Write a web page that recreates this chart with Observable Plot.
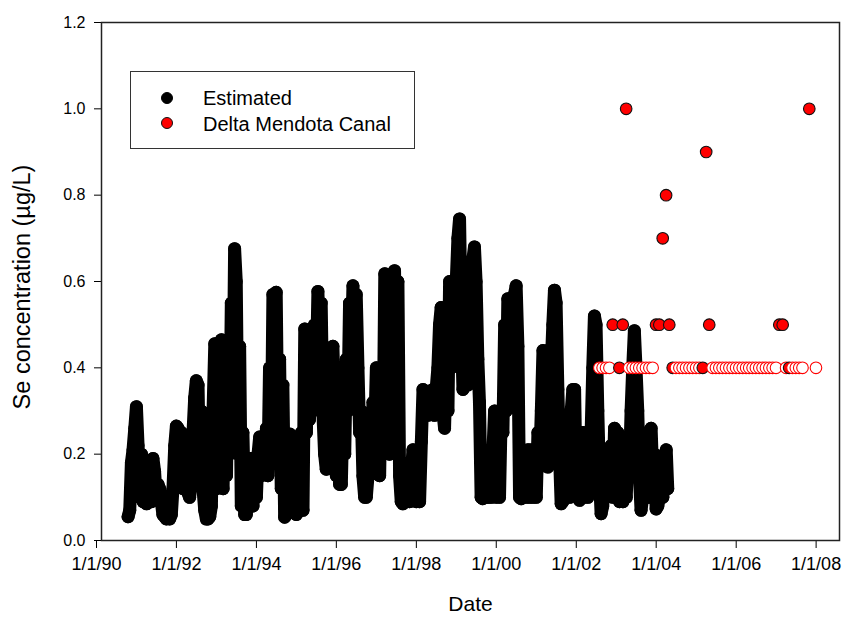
<!DOCTYPE html>
<html><head><meta charset="utf-8">
<script src="https://cdn.jsdelivr.net/npm/d3@7"></script>
<script src="https://cdn.jsdelivr.net/npm/@observablehq/plot@0.6"></script>
<style>
body{margin:0;background:#fff;}
#wrap{position:relative;width:843px;height:622px;font-family:Arial,"Liberation Sans",sans-serif;}
#overlay{position:absolute;left:0;top:0;pointer-events:none;}
</style></head>
<body><div id="wrap"></div>
<script>
// Estimated series: two values per month (1st and 16th), starting September 1990
const estStartYear = 1990, estStartMonth = 9;
const estValues = [
  // 1990 Sep-Dec
  0.055,0.07, 0.18,0.21, 0.26,0.31, 0.22,0.10,
  // 1991
  0.20,0.09, 0.17,0.085, 0.10,0.15, 0.09,0.19, 0.16,0.10, 0.13,0.12,
  0.09,0.06, 0.055,0.05, 0.06,0.05, 0.06,0.12, 0.22,0.265, 0.26,0.18,
  // 1992
  0.25,0.12, 0.20,0.14, 0.11,0.10, 0.14,0.25, 0.33,0.37, 0.36,0.13,
  0.30,0.12, 0.07,0.05, 0.05,0.055, 0.08,0.30, 0.456,0.12, 0.40,0.15,
  // 1993
  0.465,0.12, 0.42,0.15, 0.40,0.20, 0.55,0.30, 0.676,0.60, 0.20,0.45,
  0.08,0.25, 0.06,0.06, 0.12,0.19, 0.19,0.08, 0.17,0.10, 0.20,0.24,
  // 1994
  0.15,0.24, 0.18,0.26, 0.15,0.40, 0.20,0.57, 0.40,0.575, 0.20,0.42,
  0.12,0.36, 0.054,0.06, 0.12,0.247, 0.07,0.24, 0.10,0.06, 0.066,0.07,
  // 1995
  0.25,0.07, 0.49,0.25, 0.45,0.28, 0.40,0.30, 0.50,0.36, 0.577,0.45,
  0.55,0.30, 0.20,0.165, 0.25,0.35, 0.20,0.45, 0.30,0.15, 0.25,0.13,
  // 1996
  0.13,0.30, 0.20,0.42, 0.30,0.55, 0.42,0.59, 0.50,0.57, 0.40,0.25,
  0.30,0.15, 0.10,0.10, 0.15,0.25, 0.20,0.32, 0.25,0.40, 0.30,0.15,
  // 1997
  0.40,0.20, 0.618,0.30, 0.60,0.20, 0.55,0.30, 0.625,0.40, 0.60,0.15,
  0.09,0.085, 0.10,0.09, 0.12,0.09, 0.15,0.21, 0.12,0.09, 0.10,0.09,
  // 1998
  0.228,0.35, 0.30,0.33, 0.29,0.34, 0.30,0.35, 0.29,0.35, 0.40,0.50,
  0.54,0.30, 0.26,0.40, 0.30,0.60, 0.40,0.55, 0.45,0.60, 0.70,0.745,
  // 1999
  0.50,0.35, 0.58,0.40, 0.36,0.55, 0.45,0.65, 0.68,0.60, 0.42,0.32,
  0.10,0.097, 0.10,0.10, 0.10,0.12, 0.10,0.20, 0.30,0.10, 0.20,0.10,
  // 2000
  0.30,0.25, 0.50,0.30, 0.56,0.33, 0.55,0.40, 0.57,0.59, 0.45,0.10,
  0.097,0.10, 0.17,0.10, 0.21,0.10, 0.21,0.10, 0.17,0.10, 0.25,0.17,
  // 2001
  0.30,0.44, 0.25,0.35, 0.17,0.30, 0.40,0.50, 0.58,0.55, 0.35,0.20,
  0.085,0.09, 0.20,0.10, 0.25,0.10, 0.30,0.35, 0.35,0.12, 0.20,0.093,
  // 2002
  0.20,0.25, 0.10,0.20, 0.10,0.12, 0.25,0.40, 0.52,0.50, 0.30,0.15,
  0.062,0.08, 0.15,0.10, 0.20,0.12, 0.22,0.10, 0.26,0.12, 0.25,0.09,
  // 2003
  0.18,0.09, 0.12,0.10, 0.20,0.15, 0.30,0.40, 0.486,0.40, 0.30,0.15,
  0.07,0.10, 0.15,0.10, 0.20,0.10, 0.26,0.15, 0.20,0.073, 0.08,0.10,
  // 2004 Jan-Mar
  0.15,0.10, 0.18,0.21, 0.12
];

// Delta Mendota Canal samples (month, value, detected?)
const dmcMonths = [
  "2002-06","2002-07","2002-08","2002-09","2002-10","2002-12",
  "2003-01","2003-02","2003-03","2003-04","2003-05","2003-06","2003-07","2003-08","2003-09","2003-10",
  "2003-11","2003-12","2004-01","2004-02","2004-03","2004-04",
  "2004-05","2004-06","2004-07","2004-08","2004-09","2004-10","2004-11","2004-12",
  "2005-01","2005-02","2005-03",
  "2005-04","2005-05","2005-06","2005-07","2005-08","2005-09","2005-10","2005-11","2005-12",
  "2006-01","2006-02","2006-03","2006-04","2006-05","2006-06","2006-07","2006-08","2006-09","2006-10","2006-11",
  "2006-12","2007-01","2007-02","2007-03","2007-04","2007-05","2007-06","2007-07","2007-09","2007-11"
];
const dmcValues = [
  0.4,0.4,0.4,0.4,0.5,0.4,
  0.5,1.0,0.4,0.4,0.4,0.4,0.4,0.4,0.4,0.4,
  0.5,0.5,0.7,0.8,0.5,0.4,
  0.4,0.4,0.4,0.4,0.4,0.4,0.4,0.4,
  0.4,0.9,0.5,
  0.4,0.4,0.4,0.4,0.4,0.4,0.4,0.4,0.4,
  0.4,0.4,0.4,0.4,0.4,0.4,0.4,0.4,0.4,0.4,0.4,
  0.5,0.5,0.4,0.4,0.4,0.4,0.4,0.4,1.0,0.4
];
const dmcDetected = [
  0,0,0,0,1,1,
  1,1,0,0,0,0,0,0,0,0,
  1,1,1,1,1,1,
  0,0,0,0,0,0,0,0,
  1,1,1,
  0,0,0,0,0,0,0,0,0,
  0,0,0,0,0,0,0,0,0,0,0,
  1,1,0,1,0,0,0,0,1,0
];

const xTickDates = ["1990-01-01","1992-01-01","1994-01-01","1996-01-01","1998-01-01","2000-01-01","2002-01-01","2004-01-01","2006-01-01","2008-01-01"];
const xTickLabels = ["1/1/90","1/1/92","1/1/94","1/1/96","1/1/98","1/1/00","1/1/02","1/1/04","1/1/06","1/1/08"];
const yTicks = [0, 0.2, 0.4, 0.6, 0.8, 1.0, 1.2];
const xDomain = ["1990-01-01", "2008-06-17"];
const xTitle = "Date";
const yTitle = "Se concentration (µg/L)";

const est = estValues.map((v, i) => ({
  date: new Date(Date.UTC(estStartYear, estStartMonth - 1 + Math.floor(i / 2), i % 2 ? 16 : 1)),
  value: v
}));
const dmc = dmcMonths.map((m, i) => ({date: new Date(m + "-15T00:00:00Z"), value: dmcValues[i], detected: dmcDetected[i] === 1}));
const tickDates = xTickDates.map(s => new Date(s + "T00:00:00Z"));
const labelMap = new Map(tickDates.map((d, i) => [+d, xTickLabels[i]]));

const chart = Plot.plot({
  width: 843, height: 622,
  marginLeft: 101, marginRight: 4, marginTop: 22, marginBottom: 82,
  style: {fontFamily: "Arial, 'Liberation Sans', sans-serif", background: "white", color: "black"},
  x: {type: "utc", domain: xDomain.map(s => new Date(s + "T00:00:00Z"))},
  y: {domain: [0, 1.2]},
  color: {type: "identity"},
  marks: [
    Plot.line(est, {x: "date", y: "value", stroke: "black", strokeWidth: 13, strokeLinecap: "round", strokeLinejoin: "round"}),
    Plot.dot(est, {x: "date", y: "value", r: 6.5, fill: "black"}),
    Plot.dot(dmc, {x: "date", y: "value", r: 5.8,
      fill: d => d.detected ? "red" : "white",
      stroke: d => d.detected ? "#111" : "red", strokeWidth: 1.1}),
    Plot.axisX({ticks: tickDates, tickFormat: d => labelMap.get(+d), tickSize: 8, tickPadding: 9, fontSize: 18, dx: -5, label: null}),
    Plot.axisY({ticks: yTicks, tickFormat: d3.format(".1f"), tickSize: 7, tickPadding: 9, fontSize: 16, label: null}),
    Plot.frame({stroke: "#222", strokeWidth: 1.5}),
    Plot.text([xTitle], {text: d => d, frameAnchor: "bottom", dy: 70, fontSize: 21})
  ]
});
document.getElementById("wrap").appendChild(chart);

// Overlay: y-axis title and legend
const legendItems = [
  {label: "Estimated", fill: "black", stroke: "black"},
  {label: "Delta Mendota Canal", fill: "red", stroke: "#111"}
];
const ns = "http://www.w3.org/2000/svg";
const ov = document.createElementNS(ns, "svg");
ov.setAttribute("id", "overlay");
ov.setAttribute("width", 843); ov.setAttribute("height", 622);
ov.style.fontFamily = "Arial, 'Liberation Sans', sans-serif";
const yt = document.createElementNS(ns, "text");
yt.setAttribute("transform", "translate(30,287) rotate(-90)");
yt.setAttribute("text-anchor", "middle");
yt.setAttribute("font-size", 23.5);
yt.textContent = yTitle;
ov.appendChild(yt);
const rect = document.createElementNS(ns, "rect");
rect.setAttribute("x", 130.5); rect.setAttribute("y", 71.5);
rect.setAttribute("width", 284); rect.setAttribute("height", 77);
rect.setAttribute("fill", "white"); rect.setAttribute("stroke", "#333");
ov.appendChild(rect);
legendItems.forEach((it, i) => {
  const c = document.createElementNS(ns, "circle");
  c.setAttribute("cx", 167); c.setAttribute("cy", 98 + i * 25); c.setAttribute("r", 5.5);
  c.setAttribute("fill", it.fill); c.setAttribute("stroke", it.stroke);
  ov.appendChild(c);
  const t = document.createElementNS(ns, "text");
  t.setAttribute("x", 203); t.setAttribute("y", 105 + i * 25.5);
  t.setAttribute("font-size", 20); t.textContent = it.label;
  ov.appendChild(t);
});
document.getElementById("wrap").appendChild(ov);
</script>
</body></html>
